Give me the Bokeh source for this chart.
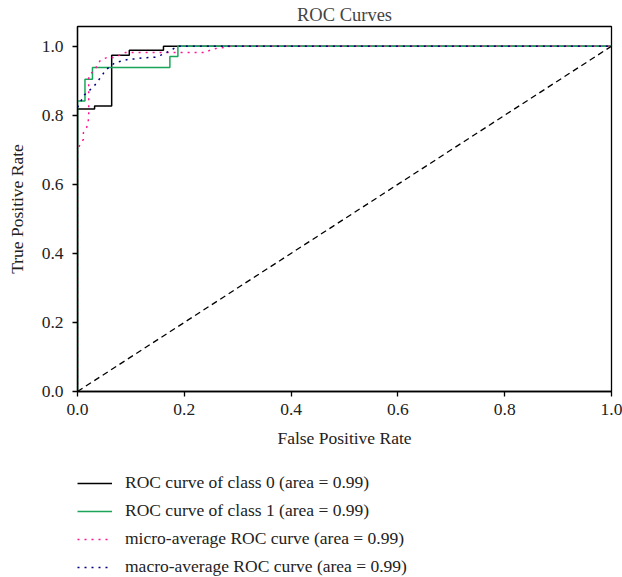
from bokeh.plotting import figure
from bokeh.models import Legend, LegendItem, FixedTicker, NumeralTickFormatter
from bokeh.layouts import column
from bokeh.embed import file_html
from bokeh.resources import INLINE

# ---- data ----
fpr_class0 = [0, 0, 0.032, 0.032, 0.064, 0.064, 0.097, 0.097, 0.161, 0.161, 1.0]
tpr_class0 = [0, 0.818, 0.818, 0.827, 0.827, 0.974, 0.974, 0.988, 0.988, 1.0, 1.0]

fpr_class1 = [0, 0, 0.014, 0.014, 0.028, 0.028, 0.173, 0.173, 0.188, 0.188, 1.0]
tpr_class1 = [0, 0.841, 0.841, 0.904, 0.904, 0.938, 0.938, 0.970, 0.970, 1.0, 1.0]

fpr_micro = [0, 0, 0.005, 0.011, 0.011, 0.017, 0.020, 0.021, 0.021, 0.031, 0.043,
             0.055, 0.067, 0.079, 0.090, 0.240, 0.250, 0.262, 0.275, 0.287, 1.0]
tpr_micro = [0, 0.700, 0.716, 0.730, 0.749, 0.764, 0.781, 0.800, 0.915, 0.929, 0.960,
             0.967, 0.967, 0.974, 0.982, 0.982, 0.990, 0.994, 0.996, 1.0, 1.0]

fpr_macro = [0, 0.007, 0.013, 0.0305, 0.038, 0.0455, 0.052, 0.064, 0.071, 0.083,
             0.0955, 0.108, 0.120, 0.1335, 0.145, 0.156, 0.167, 0.178, 0.188, 1.0]
tpr_macro = [0.823, 0.843, 0.859, 0.883, 0.899, 0.914, 0.930, 0.945, 0.953, 0.957,
             0.962, 0.963, 0.966, 0.967, 0.968, 0.974, 0.982, 0.991, 1.0, 1.0]

diag_x = [0, 1]
diag_y = [0, 1]

labels = [
    "ROC curve of class 0 (area = 0.99)",
    "ROC curve of class 1 (area = 0.99)",
    "micro-average ROC curve (area = 0.99)",
    "macro-average ROC curve (area = 0.99)",
]
colors = ["black", "#1aa55a", "deeppink", "navy"]
dashes = ["solid", "solid", "2 5", "2 5"]
ticks = [0.0, 0.2, 0.4, 0.6, 0.8, 1.0]

FONT = "Liberation Serif"

p = figure(width=622, height=450, x_range=(0, 1), y_range=(0, 1.057),
           output_backend="svg", toolbar_location=None, title="ROC Curves",
           min_border_left=77, min_border_right=11, min_border_top=26,
           min_border_bottom=57)
p.background_fill_color = "white"
p.border_fill_color = "white"
p.outline_line_color = "black"
p.outline_line_width = 1.3
p.xgrid.visible = False
p.ygrid.visible = False

p.title.align = "center"
p.title.text_font = FONT
p.title.text_font_size = "18.5px"
p.title.text_font_style = "normal"
p.title.standoff = 3

for ax in (p.xaxis[0], p.yaxis[0]):
    ax.ticker = FixedTicker(ticks=ticks)
    ax.formatter = NumeralTickFormatter(format="0.0")
    ax.minor_tick_line_color = None
    ax.major_tick_out = 5
    ax.major_tick_in = 0
    ax.axis_line_width = 1.3
    ax.major_tick_line_width = 1.3
    ax.major_label_text_font = FONT
    ax.major_label_text_font_size = "17.5px"
    ax.axis_label_text_font = FONT
    ax.axis_label_text_font_size = "17.5px"
    ax.axis_label_text_font_style = "normal"
    ax.major_label_text_color = "#222222"
    ax.axis_label_text_color = "#222222"

p.xaxis.axis_label = "False Positive Rate"
p.yaxis.axis_label = "True Positive Rate"
p.xaxis.major_label_standoff = 7
p.xaxis.axis_label_standoff = 10
p.yaxis.major_label_standoff = 9
p.yaxis.axis_label_standoff = 12

series = [(fpr_class0, tpr_class0), (fpr_class1, tpr_class1),
          (fpr_micro, tpr_micro), (fpr_macro, tpr_macro)]
for (xs, ys), c, d in zip(series, colors, dashes):
    p.line(xs, ys, line_color=c, line_width=1.5, line_dash=d)
p.line(diag_x, diag_y, line_color="black", line_width=1.3, line_dash="6 4")

# legend panel below the chart: same series drawn out of view, only the legend shows
q = figure(width=622, height=127, x_range=(2, 3), y_range=(2, 3),
           output_backend="svg", toolbar_location=None,
           x_axis_location=None, y_axis_location=None,
           min_border_left=0, min_border_right=0, min_border_top=0,
           min_border_bottom=0)
q.outline_line_color = None
q.xgrid.visible = False
q.ygrid.visible = False
items = []
for (xs, ys), lab, c, d in zip(series, labels, colors, dashes):
    r = q.line(xs, ys, line_color=c, line_width=1.5, line_dash=d)
    items.append(LegendItem(label=lab, renderers=[r]))

legend = Legend(items=items, location=(0, 0), orientation="vertical")
legend.border_line_color = None
legend.background_fill_alpha = 0
legend.label_text_font = FONT
legend.label_text_font_size = "17.5px"
legend.label_text_color = "#222222"
legend.glyph_width = 35
legend.glyph_height = 20
legend.label_standoff = 13
legend.spacing = 7
legend.padding = 0
legend.margin = 0
q.add_layout(legend, "center")

open("out.html", "w").write(file_html(column(p, q, spacing=0), INLINE))
